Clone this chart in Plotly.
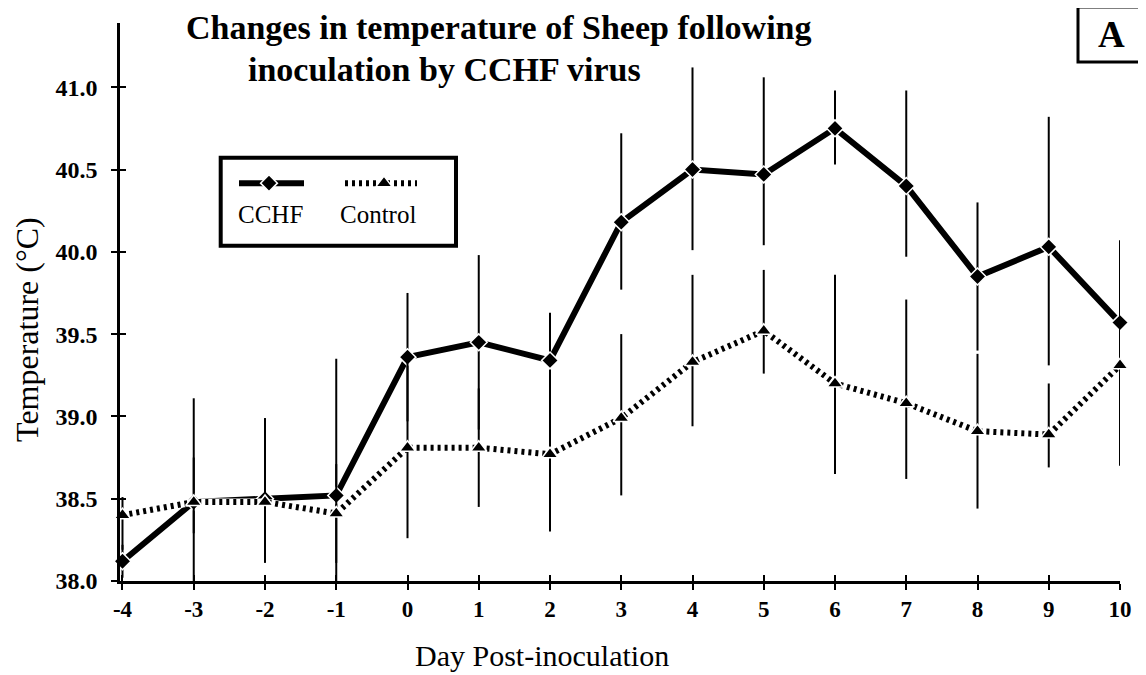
import plotly.graph_objects as go

# ---------------- data ----------------
days = [-4, -3, -2, -1, 0, 1, 2, 3, 4, 5, 6, 7, 8, 9, 10]
cchf_mean = [38.12, 38.48, 38.50, 38.52, 39.36, 39.45, 39.34, 40.18, 40.50, 40.47, 40.75, 40.40, 39.85, 40.03, 39.57]
cchf_err_plus = [0.10, 0.63, 0.49, 0.83, 0.39, 0.53, 0.29, 0.54, 0.62, 0.59, 0.23, 0.58, 0.45, 0.79, 0.50]
cchf_err_minus = [0.10, 0.48, 0.39, 0.80, 0.39, 0.53, 0.20, 0.41, 0.49, 0.43, 0.22, 0.43, 0.45, 0.72, 0.41]
control_mean = [38.40, 38.48, 38.48, 38.41, 38.81, 38.81, 38.77, 38.99, 39.33, 39.52, 39.20, 39.08, 38.91, 38.89, 39.31]
control_err_plus = [0.11, 0.27, 0.27, 0.30, 0.55, 0.36, 0.47, 0.51, 0.53, 0.37, 0.66, 0.63, 0.47, 0.31, 0.60]
control_err_minus = [0.21, 0.19, 0.17, 0.30, 0.55, 0.36, 0.47, 0.47, 0.39, 0.26, 0.55, 0.46, 0.47, 0.20, 0.61]
y_ticks = [38.0, 38.5, 39.0, 39.5, 40.0, 40.5, 41.0]
x_ticks = days
series_names = ["CCHF", "Control"]
title_lines = ["Changes in temperature of Sheep following", "inoculation by CCHF virus"]
x_title = "Day Post-inoculation"
y_title = "Temperature (°C)"
panel_label = "A"

SERIF = "Liberation Serif, Times New Roman, serif"
BLACK = "#000000"

fig = go.Figure()

# CCHF series
fig.add_trace(go.Scatter(
    x=days, y=cchf_mean, mode="lines+markers", name=series_names[0],
    line=dict(color=BLACK, width=6),
    marker=dict(symbol="diamond", size=13, color=BLACK, line=dict(color="white", width=1.5)),
    error_y=dict(type="data", symmetric=False, array=cchf_err_plus, arrayminus=cchf_err_minus,
                 color=BLACK, thickness=2, width=0),
    cliponaxis=False, showlegend=False,
))

# white underlay so the dotted control line masks what lies beneath it
fig.add_trace(go.Scatter(
    x=days, y=control_mean, mode="lines", line=dict(color="white", width=7),
    hoverinfo="skip", showlegend=False,
))

# Control series
fig.add_trace(go.Scatter(
    x=days, y=control_mean, mode="lines+markers", name=series_names[1],
    line=dict(color=BLACK, width=6, dash="3px,4px"),
    marker=dict(symbol="triangle-up", size=14, color=BLACK, line=dict(color="white", width=1.5)),
    error_y=dict(type="data", symmetric=False, array=control_err_plus, arrayminus=control_err_minus,
                 color=BLACK, thickness=2, width=0),
    cliponaxis=False, showlegend=False,
))

# ---- custom legend glyphs drawn on a hidden overlay axis (0..1 plot fractions) ----
leg_y = 0.713
fig.add_trace(go.Scatter(x=[0.119, 0.184], y=[leg_y, leg_y], mode="lines", xaxis="x2", yaxis="y2",
                         line=dict(color=BLACK, width=6), hoverinfo="skip", showlegend=False))
fig.add_trace(go.Scatter(x=[0.149], y=[leg_y], mode="markers", xaxis="x2", yaxis="y2",
                         marker=dict(symbol="diamond", size=13, color=BLACK, line=dict(color="white", width=1.5)),
                         hoverinfo="skip", showlegend=False))
fig.add_trace(go.Scatter(x=[0.225, 0.297], y=[leg_y, leg_y], mode="lines", xaxis="x2", yaxis="y2",
                         line=dict(color=BLACK, width=6, dash="3px,4px"), hoverinfo="skip", showlegend=False))
fig.add_trace(go.Scatter(x=[0.264], y=[leg_y], mode="markers", xaxis="x2", yaxis="y2",
                         marker=dict(symbol="triangle-up", size=14, color=BLACK, line=dict(color="white", width=1.5)),
                         hoverinfo="skip", showlegend=False))

x_range = [-4.035, 10.0]
y_range = [38.0, 41.39]

# the page body has an 8px margin, so the figure is shrunk by that amount
fig.update_layout(
    width=1138, height=667, autosize=False,
    margin=dict(l=112, r=26, t=15, b=94, pad=0),
    paper_bgcolor="white", plot_bgcolor="white",
    showlegend=False,
    xaxis=dict(range=x_range, tickvals=x_ticks, ticktext=[str(d) for d in x_ticks],
               showgrid=False, zeroline=False, showline=True, linecolor=BLACK, linewidth=2.5,
               ticks="outside", ticklen=6, tickwidth=2, tickcolor=BLACK,
               tickfont=dict(family=SERIF, size=23, color=BLACK, weight="bold"),
               ticklabelstandoff=0, fixedrange=True),
    yaxis=dict(range=y_range, tickvals=y_ticks, ticktext=[f"{v:.1f}" for v in y_ticks],
               showgrid=False, zeroline=False, showline=True, linecolor=BLACK, linewidth=2.5,
               ticks="outside", ticklen=6, tickwidth=2, tickcolor=BLACK,
               tickfont=dict(family=SERIF, size=24, color=BLACK, weight="bold"),
               ticklabelstandoff=9, fixedrange=True),
    xaxis3=dict(overlaying="x", anchor="y", range=x_range, tickvals=x_ticks, showticklabels=False,
                showgrid=False, zeroline=False, showline=False, ticks="inside", ticklen=6,
                tickwidth=2, tickcolor=BLACK, fixedrange=True),
    yaxis3=dict(overlaying="y", anchor="x", range=y_range, tickvals=y_ticks, showticklabels=False,
                showgrid=False, zeroline=False, showline=False, ticks="inside", ticklen=6,
                tickwidth=2, tickcolor=BLACK, fixedrange=True),
    xaxis2=dict(overlaying="x", anchor="y2", range=[0, 1], visible=False, fixedrange=True),
    yaxis2=dict(overlaying="y", anchor="x2", range=[0, 1], visible=False, fixedrange=True),
)

# invisible trace so the crossing-tick overlay axes are drawn
fig.add_trace(go.Scatter(x=[None], y=[None], xaxis="x3", yaxis="y3", showlegend=False, hoverinfo="skip"))

annotations = [
    dict(text=f"<b>{title_lines[0]}</b>", x=0.3785, y=0.9928, font=dict(family=SERIF, size=34, color=BLACK)),
    dict(text=f"<b>{title_lines[1]}</b>", x=0.3245, y=0.9158, font=dict(family=SERIF, size=34, color=BLACK)),
    dict(text=x_title, x=0.422, y=-0.134, font=dict(family=SERIF, size=30, color=BLACK)),
    dict(text=y_title, x=-0.093, y=0.45, textangle=-90, font=dict(family=SERIF, size=32, color=BLACK)),
    dict(text=series_names[0], x=0.150, y=0.656, font=dict(family=SERIF, size=25, color=BLACK)),
    dict(text=series_names[1], x=0.258, y=0.656, font=dict(family=SERIF, size=25, color=BLACK)),
    dict(text=f"<b>{panel_label}</b>", x=0.9915, y=0.9794, font=dict(family=SERIF, size=37, color=BLACK)),
]
for a in annotations:
    fig.add_annotation(xref="paper", yref="paper", showarrow=False, xanchor="center", yanchor="middle", **a)

# legend frame and panel-label frame
fig.add_shape(type="rect", xref="paper", yref="paper", x0=0.1007, x1=0.336, y0=0.601, y1=0.7586,
              line=dict(color=BLACK, width=4), fillcolor="rgba(0,0,0,0)", layer="above")
fig.add_shape(type="rect", xref="paper", yref="paper", x0=0.958, x1=1.0245, y0=0.930, y1=1.0287,
              line=dict(color=BLACK, width=3), fillcolor="rgba(0,0,0,0)", layer="above")

fig.write_html("out.html")
